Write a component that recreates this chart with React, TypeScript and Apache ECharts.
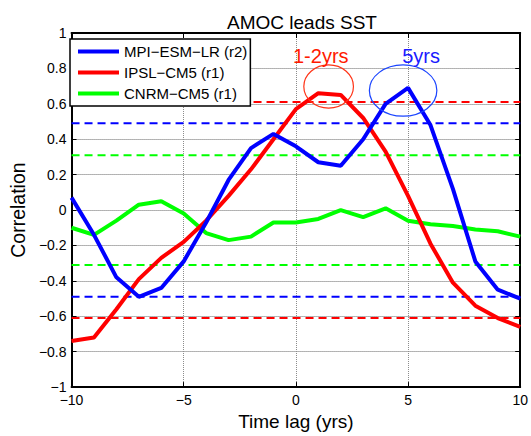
import React, { useEffect, useRef } from "react";
import * as echarts from "echarts";

const lags = [-10, -9, -8, -7, -6, -5, -4, -3, -2, -1, 0, 1, 2, 3, 4, 5, 6, 7, 8, 9, 10];
const mpi = [0.07, -0.14, -0.38, -0.49, -0.44, -0.29, -0.07, 0.17, 0.35, 0.43, 0.36, 0.27, 0.25, 0.4, 0.6, 0.69, 0.48, 0.12, -0.29, -0.45, -0.5];
const ipsl = [-0.74, -0.72, -0.56, -0.39, -0.27, -0.18, -0.06, 0.08, 0.23, 0.4, 0.57, 0.66, 0.65, 0.52, 0.33, 0.08, -0.19, -0.41, -0.54, -0.61, -0.66];
const cnrm = [-0.1, -0.14, -0.06, 0.03, 0.05, -0.02, -0.13, -0.17, -0.15, -0.07, -0.07, -0.05, 0.0, -0.04, 0.01, -0.06, -0.08, -0.09, -0.11, -0.12, -0.15];

const seriesNames = ["MPI−ESM−LR (r2)", "IPSL−CM5 (r1)", "CNRM−CM5 (r1)"];
const seriesColors = ["#0000ff", "#ff0000", "#00ff00"];
const significance = [0.49, 0.61, 0.31];

const titleText = "AMOC leads SST";
const xName = "Time lag (yrs)";
const yName = "Correlation";

// annotations in data coordinates: [centerX, centerY], [radiusX, radiusY]
const annRedCenter = [1.46, 0.698];
const annRedRadius = [1.106, 0.122];
const annBlueCenter = [4.78, 0.675];
const annBlueRadius = [1.504, 0.145];
const annRedLabel = { text: "1-2yrs", pos: [1.11, 0.868] };
const annBlueLabel = { text: "5yrs", pos: [5.58, 0.868] };

const FONT = "'Liberation Sans', Arial, Helvetica, sans-serif";

const fmt = (v: number) => {
  const r = Math.round(v * 10) / 10;
  if (r === 0) return "0";
  return r < 0 ? "−" + String(-r) : String(r);
};

export default function App() {
  const ref = useRef<HTMLDivElement>(null);
  useEffect(() => {
    if (!ref.current) return;
    const chart = echarts.init(ref.current, null, { renderer: "svg" });
    const modelData = [mpi, ipsl, cnrm];

    const dashed = significance.flatMap((s, i) =>
      [s, -s].map((v) => ({
        name: "sig" + i + (v > 0 ? "p" : "n"),
        type: "line",
        xAxisIndex: 0,
        yAxisIndex: 0,
        data: [
          [lags[0], v],
          [lags[lags.length - 1], v],
        ],
        showSymbol: false,
        symbol: "none",
        silent: true,
        lineStyle: { color: seriesColors[i], width: 2, type: [8, 5] },
        z: 2,
      }))
    );

    const order = [2, 1, 0];
    const lines = order.map((i) => ({
      name: seriesNames[i],
      type: "line",
      xAxisIndex: 0,
      yAxisIndex: 0,
      data: lags.map((x, k) => [x, modelData[i][k]]),
      showSymbol: false,
      symbol: "none",
      lineStyle: { color: seriesColors[i], width: 4 },
      itemStyle: { color: seriesColors[i] },
      z: 3,
    }));

    const gridX = () => ({ show: true, lineStyle: { color: "#8c8c8c", width: 1, type: "dotted" } });
    const gridY = () => ({ show: true, lineStyle: { color: "#9a9a9a", width: 1, type: "dotted" } });
    const tickStyle = () => ({ show: true, inside: true, length: 5, lineStyle: { color: "#000", width: 1 } });
    const boxLine = () => ({ show: true, onZero: false, lineStyle: { color: "#000", width: 2 } });

    chart.setOption({
      animation: false,
      backgroundColor: "#fff",
      title: {
        text: titleText,
        left: 297,
        top: 8,
        textAlign: "center",
        textStyle: { fontFamily: FONT, fontSize: 19, fontWeight: "normal", color: "#000" },
      },
      legend: {
        data: seriesNames.map((n) => ({ name: n })),
        orient: "vertical",
        left: 70,
        top: 39,
        icon: "rect",
        itemWidth: 41,
        itemHeight: 4,
        itemGap: 4,
        padding: [4, 3, 4, 8],
        backgroundColor: "#fff",
        borderColor: "#000",
        borderWidth: 1.5,
        borderRadius: 0,
        selectedMode: false,
        textStyle: { fontFamily: FONT, fontSize: 15, color: "#000", lineHeight: 17 },
        z: 10,
      },
      grid: { left: 71, right: 8, top: 33, bottom: 48 },
      xAxis: [
        {
          type: "value",
          min: -10,
          max: 10,
          interval: 5,
          position: "bottom",
          name: xName,
          nameLocation: "middle",
          nameGap: 23,
          nameTextStyle: { fontFamily: FONT, fontSize: 19, color: "#000" },
          axisLine: boxLine(),
          axisTick: tickStyle(),
          axisLabel: { formatter: fmt, fontFamily: FONT, fontSize: 14, color: "#000", margin: 6 },
          splitLine: gridX(),
        },
        {
          type: "value",
          min: -10,
          max: 10,
          interval: 5,
          position: "top",
          axisLine: boxLine(),
          axisTick: tickStyle(),
          axisLabel: { show: false },
          splitLine: { show: false },
        },
      ],
      yAxis: [
        {
          type: "value",
          min: -1,
          max: 1,
          interval: 0.2,
          position: "left",
          name: yName,
          nameLocation: "middle",
          nameGap: 41,
          nameTextStyle: { fontFamily: FONT, fontSize: 19.5, color: "#000" },
          axisLine: boxLine(),
          axisTick: tickStyle(),
          axisLabel: { formatter: fmt, fontFamily: FONT, fontSize: 14, color: "#000", margin: 5 },
          splitLine: gridY(),
        },
        {
          type: "value",
          min: -1,
          max: 1,
          interval: 0.2,
          position: "right",
          axisLine: boxLine(),
          axisTick: tickStyle(),
          axisLabel: { show: false },
          splitLine: gridY(),
        },
      ],
      series: [...dashed, ...lines],
    });

    const toPx = (p: number[]) => chart.convertToPixel({ xAxisIndex: 0, yAxisIndex: 0 }, p) as number[];
    const ellipse = (c: number[], r: number[], color: string) => {
      const a = toPx(c);
      const b = toPx([c[0] + r[0], c[1] + r[1]]);
      return {
        type: "ellipse",
        shape: { cx: a[0], cy: a[1], rx: Math.abs(b[0] - a[0]), ry: Math.abs(b[1] - a[1]) },
        style: { fill: "none", stroke: color, lineWidth: 1.2 },
        z: 5,
        silent: true,
      };
    };
    const label = (l: { text: string; pos: number[] }, color: string) => {
      const a = toPx(l.pos);
      return {
        type: "text",
        x: a[0],
        y: a[1],
        style: { text: l.text, fill: color, fontSize: 20, fontFamily: FONT, align: "center", verticalAlign: "middle" },
        z: 5,
        silent: true,
      };
    };
    chart.setOption({
      graphic: [
        ellipse(annRedCenter, annRedRadius, "#ff3316"),
        ellipse(annBlueCenter, annBlueRadius, "#1a44ff"),
        label(annRedLabel, "#ff1a00"),
        label(annBlueLabel, "#1a1aff"),
      ],
    });

    return () => chart.dispose();
  }, []);
  return <div ref={ref} style={{ position: "fixed", left: 0, top: 0, width: 531, height: 436 }} />;
}
